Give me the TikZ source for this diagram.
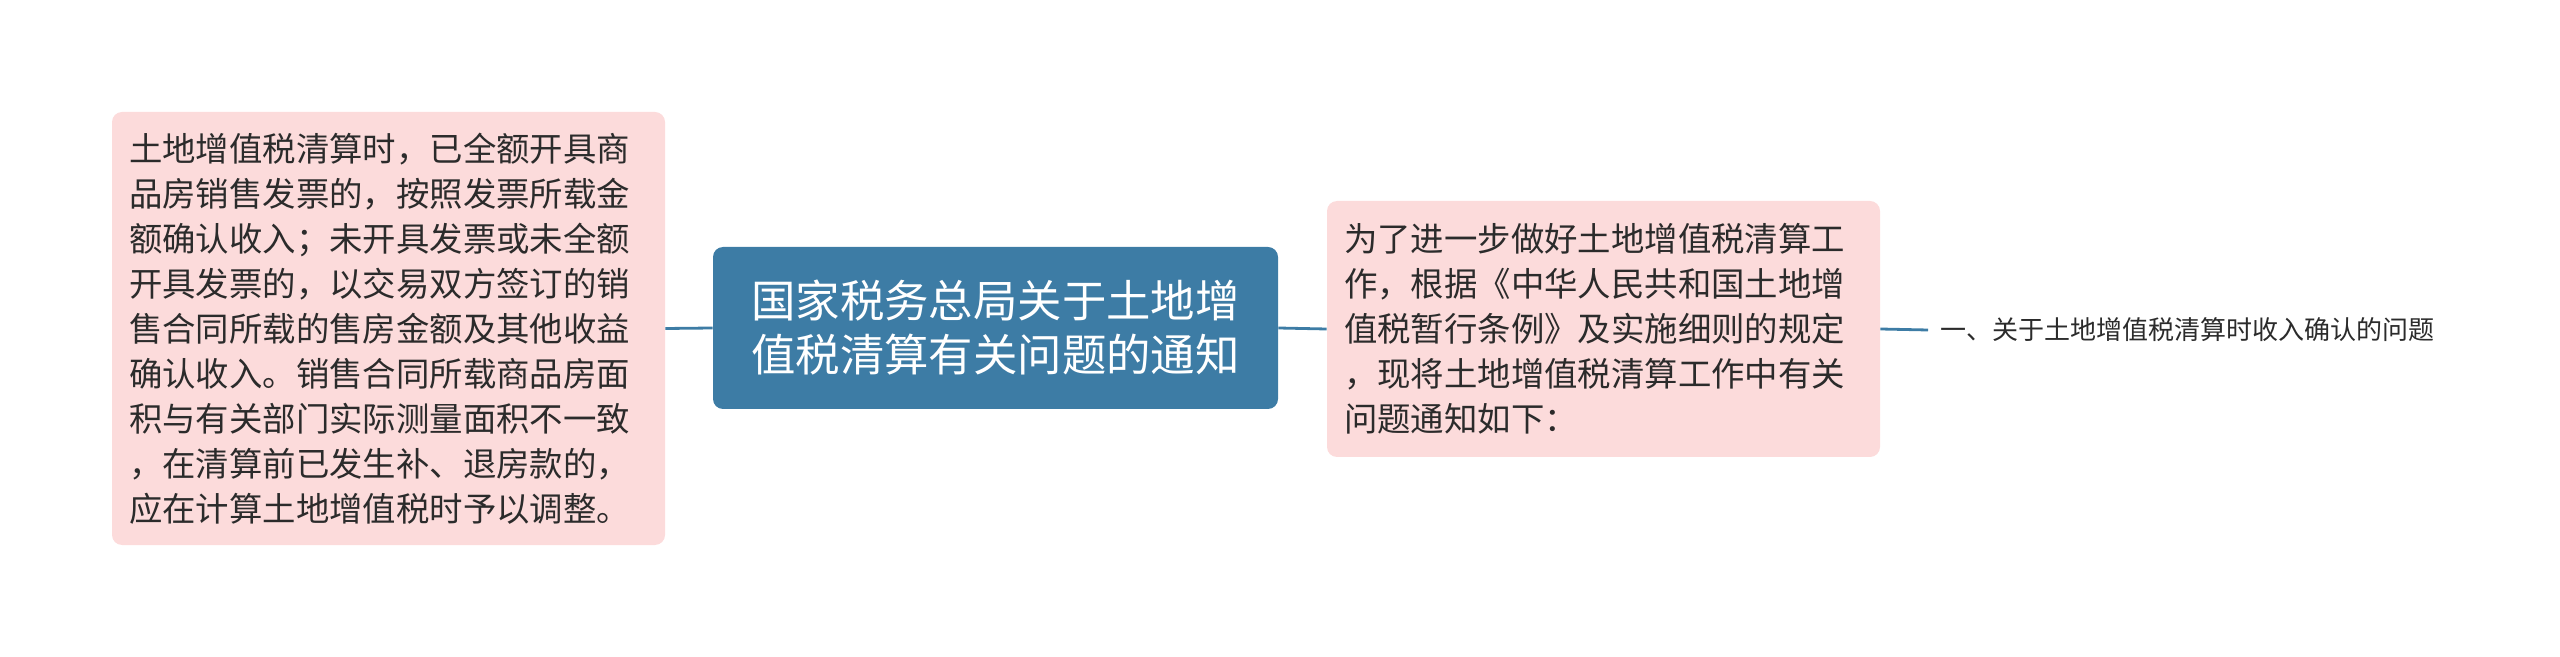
\documentclass[tikz,border=0pt]{standalone}
\usepackage{fontspec}
\setmainfont{Noto Sans CJK SC}
\definecolor{topicblue}{HTML}{3D7CA5}
\definecolor{notepink}{HTML}{FCDBDB}
\definecolor{inktext}{HTML}{2B2B2B}

\begin{document}
\begin{tikzpicture}[x=0.5pt,y=-0.5pt,
    notebox/.style={fill=notepink,rounded corners=5pt,text=inktext,align=left,
      inner xsep=8.5pt,text width=259.5pt,font=\fontsize{16.7pt}{22.5pt}\selectfont},
    topicbox/.style={fill=topicblue,rounded corners=5pt,text=white,align=center,
      minimum width=282.5pt,minimum height=81pt,font=\fontsize{22.2pt}{27pt}\selectfont},
    leaf/.style={text=inktext,inner xsep=6pt,font=\fontsize{13pt}{16pt}\selectfont},
    link/.style={topicblue,line width=1.4pt}]
        \useasboundingbox (0,0) rectangle (2560,657);
        \node[topicbox] (notice) at (995.5,328) {国家税务总局关于土地增\\值税清算有关问题的通知};
        \node[notebox,minimum height=216.5pt] (income) at (388.5,328.5) {土地增值税清算时，已全额开具商\\品房销售发票的，按照发票所载金\\额确认收入；未开具发票或未全额\\开具发票的，以交易双方签订的销\\售合同所载的售房金额及其他收益\\确认收入。销售合同所载商品房面\\积与有关部门实际测量面积不一致\\，在清算前已发生补、退房款的，\\应在计算土地增值税时予以调整。};
        \node[notebox,minimum height=128pt] (intro) at (1603.5,329) {为了进一步做好土地增值税清算工\\作，根据《中华人民共和国土地增\\值税暂行条例》及实施细则的规定\\，现将土地增值税清算工作中有关\\问题通知如下：};
        \node[leaf,anchor=west] (first) at (1928,330) {一、关于土地增值税清算时收入确认的问题};
        \draw[link] (income.east) -- (notice.west);
        \draw[link] (notice.east) -- (intro.west);
        \draw[link] (intro.east) -- (first.west);
      \end{tikzpicture}
\end{document}
